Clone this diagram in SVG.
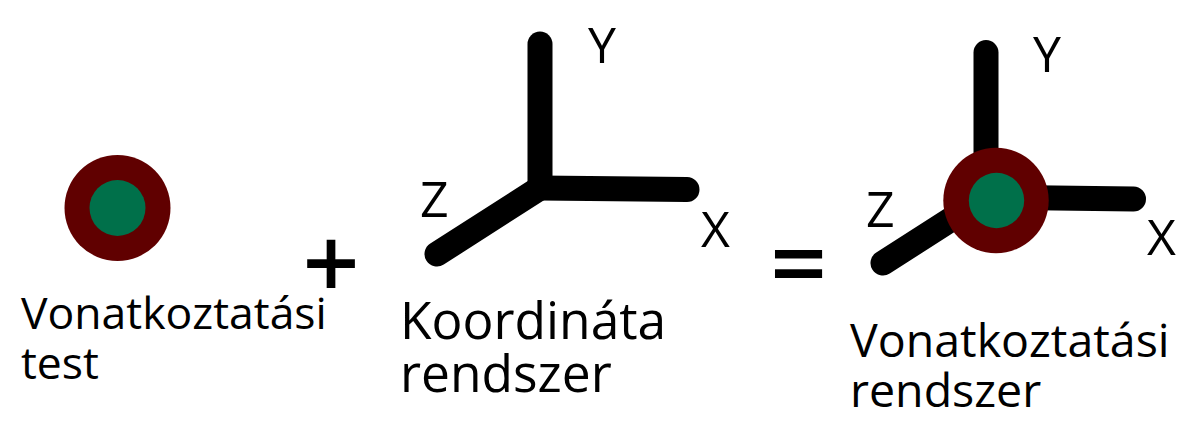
<svg xmlns="http://www.w3.org/2000/svg" width="1186" height="438" viewBox="0 0 1186 438">
<style>
.lbl{font-family:"Open Sans","Noto Sans",sans-serif;fill:#000}
.ax{fill:none;stroke:#000;stroke-width:25;stroke-linecap:round;stroke-linejoin:miter}
.outer{fill:#600000}
.inner{fill:#00704a}
.op{font-family:"Open Sans","Noto Sans",sans-serif;font-weight:600;fill:#000;text-anchor:middle}
</style>
<rect width="1186" height="438" fill="#fff"/>
<g id="body">
<circle class="outer" cx="117.5" cy="208" r="53"/>
<circle class="inner" cx="117.5" cy="208" r="28"/>
<text class="lbl" font-size="44.5" x="21" y="329">Vonatkoztatási</text>
<text class="lbl" font-size="44.5" x="21" y="379">test</text>
</g>
<g id="plus">
<text class="op" font-size="100" x="331" y="299">+</text>
</g>
<g id="coords">
<path class="ax" d="M540,44 V188"/>
<path class="ax" d="M540,188 L687,189.5"/>
<path class="ax" d="M540,188 L437,254"/>
<text class="lbl" font-size="50" x="588" y="62.7">Y</text>
<text class="lbl" font-size="50" x="701" y="246.7">X</text>
<text class="lbl" font-size="50" x="420" y="216.7">Z</text>
<text class="lbl" font-size="51.5" x="400" y="339.3">Koordináta</text>
<text class="lbl" font-size="51.5" x="400" y="391.7">rendszer</text>
</g>
<g id="equals">
<text class="op" font-size="100" x="798.5" y="298.5">=</text>
</g>
<g id="frame">
<path class="ax" d="M986,52.5 V197"/>
<path class="ax" d="M986,197 L1133.5,199"/>
<path class="ax" d="M986,197 L883,263"/>
<circle class="outer" cx="996" cy="200.5" r="52.7"/>
<circle class="inner" cx="996.5" cy="200.5" r="27.7"/>
<text class="lbl" font-size="50" x="1033" y="71.5">Y</text>
<text class="lbl" font-size="50" x="1147" y="255">X</text>
<text class="lbl" font-size="50" x="866" y="226.5">Z</text>
<text class="lbl" font-size="46.5" x="850" y="357">Vonatkoztatási</text>
<text class="lbl" font-size="46.5" x="850" y="407">rendszer</text>
</g>
<g id="connectors"/>
</svg>
